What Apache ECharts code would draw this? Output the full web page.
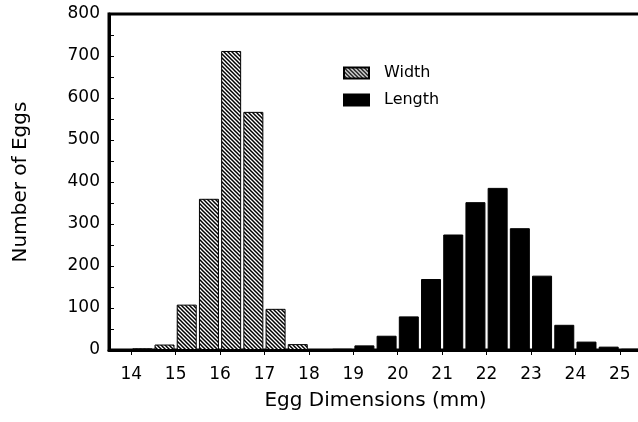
<!DOCTYPE html>
<html>
<head>
<meta charset="utf-8">
<script src="https://cdn.jsdelivr.net/npm/echarts@6/dist/echarts.min.js"></script>
<style>
  html, body { margin: 0; padding: 0; background: #fff; }
  #chart { width: 638px; height: 422px; }
</style>
</head>
<body>
<div id="chart"></div>
<script>
// bin centres (mm) and counts
var widthBins = [14.25, 14.75, 15.25, 15.75, 16.25, 16.75, 17.25, 17.75];
var widthCounts = [4, 13, 108, 360, 712, 567, 98, 14];

var lengthBins = [18.75, 19.25, 19.75, 20.25, 20.75, 21.25, 21.75, 22.25, 22.75, 23.25, 23.75, 24.25, 24.75, 25.25];
var lengthCounts = [3, 11, 34, 80, 169, 275, 352, 386, 290, 177, 60, 20, 8, 3];

var xTicks = [14, 15, 16, 17, 18, 19, 20, 21, 22, 23, 24, 25];
var yTicks = [0, 50, 100, 150, 200, 250, 300, 350, 400, 450, 500, 550, 600, 650, 700, 750, 800];
var yLabels = [0, 100, 200, 300, 400, 500, 600, 700, 800];

var myChart = echarts.init(document.getElementById('chart'));

// hatch fill (\\\) for the width bars
function makeHatch() {
    var c = document.createElement('canvas');
    c.width = 4;
    c.height = 4;
    var ctx = c.getContext('2d');
    ctx.fillStyle = '#fff';
    ctx.fillRect(0, 0, 4, 4);
    ctx.strokeStyle = '#000';
    ctx.lineWidth = 1.5;
    ctx.beginPath();
    ctx.moveTo(-1, -1); ctx.lineTo(5, 5);
    ctx.moveTo(-1, 3); ctx.lineTo(1, 5);
    ctx.moveTo(3, -1); ctx.lineTo(5, 1);
    ctx.stroke();
    return c;
}

function pairs(xs, ys) {
    return xs.map(function (x, i) { return [x, ys[i]]; });
}

var font = 'DejaVu Sans';

var option = {
    animation: false,
    grid: {
        left: 109,
        top: 14,
        width: 533,
        height: 336,
        outerBoundsMode: 'none',
        show: true,
        backgroundColor: 'transparent',
        borderColor: '#000',
        borderWidth: 3
    },
    legend: {
        orient: 'vertical',
        left: 343,
        top: 65,
        padding: 0,
        itemWidth: 25,
        itemHeight: 11,
        itemGap: 11,
        icon: 'rect',
        textStyle: {
            fontFamily: font,
            fontSize: 16,
            color: '#000',
            padding: [0, 0, 0, 10]
        },
        data: ['Width', 'Length']
    },
    xAxis: {
        type: 'value',
        min: 13.5,
        max: 25.5,
        name: 'Egg Dimensions (mm)',
        nameLocation: 'middle',
        nameGap: 41,
        nameTextStyle: { fontFamily: font, fontSize: 20, color: '#000' },
        splitLine: { show: false },
        axisLine: { show: true, lineStyle: { color: '#000', width: 3 } },
        axisTick: {
            show: true,
            customValues: xTicks,
            length: 5,
            lineStyle: { color: '#000', width: 1 }
        },
        axisLabel: {
            customValues: xTicks,
            margin: 16,
            fontFamily: font,
            fontSize: 17,
            color: '#000'
        }
    },
    yAxis: {
        type: 'value',
        min: 0,
        max: 800,
        name: 'Number of Eggs',
        nameLocation: 'middle',
        nameGap: 78,
        nameTextStyle: { fontFamily: font, fontSize: 20, color: '#000' },
        splitLine: { show: false },
        axisLine: { show: true, lineStyle: { color: '#000', width: 3 } },
        axisTick: {
            show: true,
            inside: true,
            customValues: yTicks,
            length: 5,
            lineStyle: { color: '#000', width: 1 }
        },
        axisLabel: {
            customValues: yLabels,
            margin: 9,
            fontFamily: font,
            fontSize: 17,
            color: '#000'
        }
    },
    series: [{
        name: 'Width',
        type: 'bar',
        barWidth: 20,
        barGap: '-100%',
        itemStyle: {
            color: { image: makeHatch(), repeat: 'repeat' },
            borderColor: '#000',
            borderWidth: 1
        },
        data: pairs(widthBins, widthCounts)
    }, {
        name: 'Length',
        type: 'bar',
        barWidth: 20,
        barGap: '-100%',
        itemStyle: {
            color: '#000',
            borderColor: '#000',
            borderWidth: 1
        },
        data: pairs(lengthBins, lengthCounts)
    }]
};

myChart.setOption(option);
</script>
</body>
</html>
